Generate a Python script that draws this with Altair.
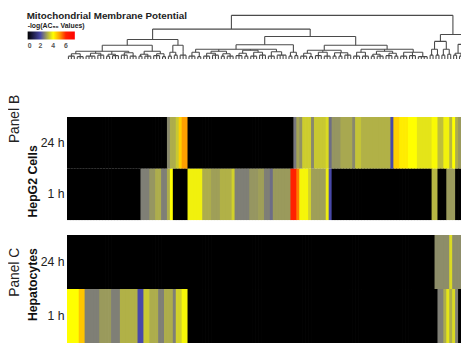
import altair as alt
import pandas as pd

FONT = "Liberation Sans"
TITLE = "Mitochondrial Membrane Potential"
LEGEND_TITLE = "-log(AC\u2085\u2080 Values)"
TIMES = ["24 h", "1 h"]
N_COMPOUNDS = 134

# -log(AC50) per compound in dendrogram leaf order, run-length encoded as (value, number of compounds)
hepg2_24h = [(0, 34), (2.7, 1), (3.1, 2), (3.4, 1), (4.5, 1), (5.0, 2), (0, 36), (2.5, 1), (3.0, 1),
             (2.8, 1), (3.45, 3), (2.7, 1), (3.4, 4), (3.6, 1), (2.4, 1), (2.85, 3), (3.05, 4), (2.7, 1),
             (3.35, 2), (3.15, 10), (2.0, 1), (4.5, 2), (4.2, 3), (4.0, 3), (3.7, 5), (3.95, 2), (3.3, 2),
             (3.85, 2), (3.2, 1), (4.0, 1), (3.1, 1), (2.9, 1)]
hepg2_1h = [(0, 25), (2.6, 3), (2.85, 2), (3.1, 2), (2.6, 2), (3.1, 1), (4.0, 1), (0, 5), (3.85, 5),
            (3.1, 3), (2.95, 3), (3.15, 4), (3.5, 1), (2.6, 5), (2.85, 3), (2.95, 2), (2.6, 2), (2.4, 1),
            (2.9, 6), (6.0, 2), (5.3, 1), (3.9, 3), (3.5, 1), (2.95, 5), (3.8, 1), (2.0, 1), (0, 34),
            (3.2, 2), (0, 3), (2.9, 3), (0, 2)]
hepatocytes_24h = [(0, 125), (2.75, 5), (3.6, 1), (2.75, 3)]
hepatocytes_1h = [(4.0, 4), (4.6, 2), (2.6, 5), (2.9, 4), (2.6, 3), (3.15, 6), (2.0, 2), (3.4, 2), (3.1, 3),
                  (2.6, 2), (3.1, 3), (2.6, 1), (3.5, 2), (3.9, 2), (0, 85), (2.6, 2), (3.1, 1), (3.7, 1),
                  (3.1, 1), (3.6, 1), (2.6, 1), (0, 1)]

color_domain = [0, 2, 4, 5, 6, 7.4]
color_range = ["#000000", "#4848a8", "#ffff00", "#ffa000", "#ff2000", "#ff0000"]
legend_values = [0, 2, 4, 6]


# dendrogram: node(height, children...) / fan(number of leaves, height)
def node(h, *children):
    return {"type": "node", "h": h, "children": list(children)}


def fan(k, h):
    return {"type": "fan", "k": k, "h": h}


tree = node(44.5,
    node(30.5,
        node(20,
            node(14,
                node(8, node(5.5, fan(3, 3), fan(3, 2.5)), node(6, fan(4, 3), fan(3, 4)),
                     node(5, fan(2, 3), fan(3, 3.5)), node(6.5, fan(3, 4), fan(3, 3))),
                node(8, node(5, fan(2, 3), fan(3, 3)), node(5.5, fan(3, 3.5), fan(2, 2.5)))),
            node(14, node(7, fan(2, 3), fan(2, 4)), node(8, fan(3, 4)))),
        node(23,
            node(14.5,
                node(10, node(7, fan(3, 3), fan(2, 2.5)),
                     node(8, node(6, fan(3, 3), fan(3, 4)), node(5.5, fan(2, 3), fan(3, 3))),
                     node(9, node(6, fan(3, 3.5), fan(2, 3)), node(7, fan(3, 3), fan(3, 4))),
                     node(7.5, fan(3, 3), fan(4, 4))),
                node(7, fan(2, 3), fan(2, 3.5))),
            node(14,
                node(9, node(6, fan(3, 3), fan(2, 2.5)), node(7, fan(3, 3.5), fan(3, 3)),
                     node(6.5, fan(2, 3), fan(2, 3), fan(3, 4))),
                node(10, node(7, fan(3, 3), fan(3, 3)),
                     node(8, node(5, fan(2, 3), fan(3, 3)), node(6, fan(3, 3.5), fan(2, 3))),
                     node(7, fan(3, 3), fan(3, 3.5), fan(4, 2.5)))))),
    node(25,
        node(18, node(10, fan(2, 4), fan(2, 4)), node(10, fan(2, 4), fan(2, 5))),
        node(15, node(6, fan(2, 4), fan(2, 3)), node(8, fan(3, 4), fan(3, 4)))))

# ---------- build tables ----------
def expand(runs):
    out = []
    for v, n in runs:
        out += [v] * n
    return out


rows = []
for panel, time, runs in [("B", "24 h", hepg2_24h), ("B", "1 h", hepg2_1h),
                          ("C", "24 h", hepatocytes_24h), ("C", "1 h", hepatocytes_1h)]:
    for i, v in enumerate(expand(runs)):
        rows.append({"panel": panel, "time": time, "col": i, "value": v})
heat_df = pd.DataFrame(rows)

segs = []
counter = [0]


def layout(t):
    if t["type"] == "fan":
        xs = []
        for _ in range(t["k"]):
            x = counter[0] + 0.5
            counter[0] += 1
            xs.append(x)
            segs.append({"x": x, "x2": x, "y": 0, "y2": t["h"]})
        segs.append({"x": xs[0], "x2": xs[-1], "y": t["h"], "y2": t["h"]})
        return (xs[0] + xs[-1]) / 2, t["h"]
    res = [layout(c) for c in t["children"]]
    xs = [r[0] for r in res]
    for cx, ch in res:
        segs.append({"x": cx, "x2": cx, "y": ch, "y2": t["h"]})
    segs.append({"x": min(xs), "x2": max(xs), "y": t["h"], "y2": t["h"]})
    return (min(xs) + max(xs)) / 2, t["h"]


layout(tree)
seg_df = pd.DataFrame(segs)

# ---------- charts ----------
x_scale = alt.Scale(domain=[0, N_COMPOUNDS], nice=False, zero=False)
color_scale = alt.Scale(domain=color_domain, range=color_range, interpolate="rgb")
legend = alt.Legend(type="gradient", orient="none", legendX=-40, legendY=11, direction="horizontal",
                    gradientLength=48, gradientThickness=8, title=LEGEND_TITLE,
                    titleFont=FONT, titleFontSize=7, titleFontWeight="bold", titleColor="#222",
                    titlePadding=3, labelFont=FONT, labelFontSize=7, labelFontWeight="bold",
                    labelColor="#555", values=legend_values, gradientStrokeWidth=0, labelOffset=3)

dendro = alt.Chart(seg_df).mark_rule(color="#4a4a4a", strokeWidth=1.1, clip=True).encode(
    x=alt.X("x:Q", scale=x_scale, axis=None),
    x2="x2:Q",
    y=alt.Y("y:Q", scale=alt.Scale(domain=[-44, 49], nice=False, zero=False), axis=None),
    y2="y2:Q",
)
title_txt = alt.Chart(pd.DataFrame({"t": [TITLE]})).mark_text(
    align="left", baseline="middle", fontSize=10, fontWeight="bold", font=FONT, color="#222"
).encode(text="t:N", x=alt.value(-41), y=alt.value(5))
top = alt.layer(dendro, title_txt).properties(width=401, height=93)


def panel(name, label, title, title_y, label_y, height):
    heat = alt.Chart(heat_df).transform_filter(alt.datum.panel == name).transform_calculate(
        col_end="datum.col + 1.25"
    ).mark_rect(clip=True).encode(
        x=alt.X("col:Q", scale=x_scale, axis=None),
        x2="col_end:Q",
        y=alt.Y("time:N", sort=TIMES, scale=alt.Scale(paddingInner=0, paddingOuter=0),
                axis=alt.Axis(title=title, ticks=False, domain=False, labelFont=FONT, labelFontSize=12.5,
                              labelColor="#222", labelPadding=3, titleFont=FONT, titleFontSize=12.5,
                              titleFontWeight="bold", titleColor="#111", titleAngle=270, titleX=-35,
                              titleY=title_y, titleAlign="center", titleBaseline="middle")),
        color=alt.Color("value:Q", scale=color_scale, legend=legend),
    )
    ptxt = alt.Chart(pd.DataFrame({"t": [label]})).mark_text(
        angle=270, fontSize=14, font=FONT, color="#222", baseline="middle", align="center"
    ).encode(text="t:N", x=alt.value(-53), y=alt.value(label_y))
    return alt.layer(heat, ptxt).properties(width=401, height=height)


panel_b = panel("B", "Panel B", "HepG2 Cells", 65, 2, 105)
panel_c = panel("C", "Panel C", "Hepatocytes", 50, 38, 110)

chart = alt.vconcat(top, panel_b, panel_c, spacing=15, bounds="flush").properties(
    padding=0, background="white"
).configure_view(stroke=None)

chart.save("out.html", embed_options={"renderer": "svg", "actions": False})
